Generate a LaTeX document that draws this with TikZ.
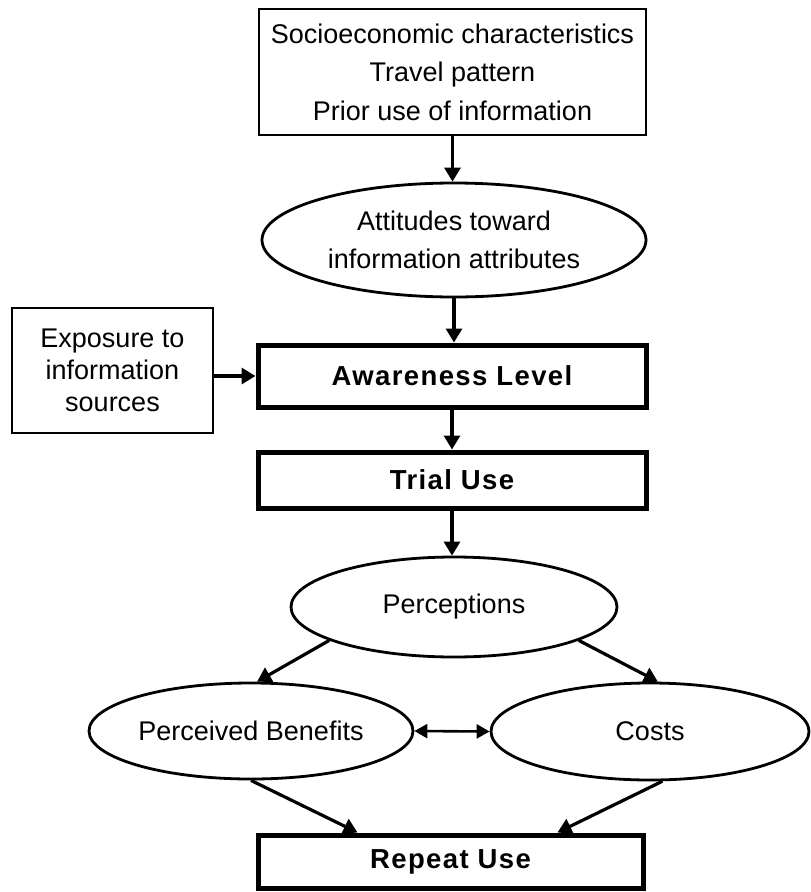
\documentclass[tikz,border=0pt]{standalone}
\usepackage{fontspec}
\setmainfont{Liberation Sans}
\usetikzlibrary{arrows.meta,calc,shapes.geometric}
\begin{document}
\begin{tikzpicture}[x=1pt,y=-1pt,
  base/.style={draw=black,inner sep=0pt,align=center,font=\fontsize{27}{38.5}\selectfont},
  thinbox/.style={base,rectangle,line width=2.8pt},
  thickbox/.style={base,rectangle,line width=5pt,font=\fontsize{27.5}{30}\selectfont\bfseries\addfontfeature{LetterSpace=5}},
  oval/.style={base,ellipse,line width=2.8pt},
  arr/.style={line width=3.2pt,-{Triangle[length=14pt,width=16pt]}},
  darr/.style={line width=2.6pt,{Triangle[length=13pt,width=14pt]}-{Triangle[length=13pt,width=14pt]}}
]
\useasboundingbox (0,0) rectangle (811,892);
\node[thinbox,minimum width=387pt,minimum height=126pt] (top) at (452.5,72)
  {Socioeconomic characteristics\\Travel pattern\\Prior use of information};
\node[oval,minimum width=384pt,minimum height=114pt] (att) at (454,240)
  {Attitudes toward\\information attributes};
\node[thinbox,minimum width=201pt,minimum height=125pt,font=\fontsize{27}{32}\selectfont] (expo) at (112.5,370.5)
  {Exposure to\\information\\sources};
\node[thickbox,minimum width=388pt,minimum height=62pt] (aw) at (452,376) {Awareness Level};
\node[thickbox,minimum width=388pt,minimum height=56pt] (trial) at (452,480) {Trial Use};
\node[oval,minimum width=326pt,minimum height=100pt] (perc) at (454,607) {Perceptions};
\node[oval,minimum width=324pt,minimum height=96pt] (pb) at (251,731) {Perceived Benefits};
\node[oval,minimum width=318pt,minimum height=97pt] (costs) at (650,731.5) {Costs};
\node[thickbox,minimum width=385pt,minimum height=53pt] (rep) at (450.5,861.5) {Repeat Use};

\draw[arr] (top.south) -- (top.south |- att.north);
\draw[arr] (att.south) -- (att.south |- aw.north);
\draw[arr] (expo.east |- aw.west) -- (aw.west);
\draw[arr] (aw.south) -- (trial.north);
\draw[arr] (trial.south) -- (trial.south |- perc.north);
\draw[arr] (perc.195) -- (pb.83);
\draw[arr] (perc.345) -- (costs.81);
\draw[darr] (pb.east) -- (costs.west);
\draw[arr] (pb.south) -- ([xshift=102pt]rep.north west);
\draw[arr] (costs.284) -- ([xshift=-88pt]rep.north east);
\end{tikzpicture}
\end{document}
